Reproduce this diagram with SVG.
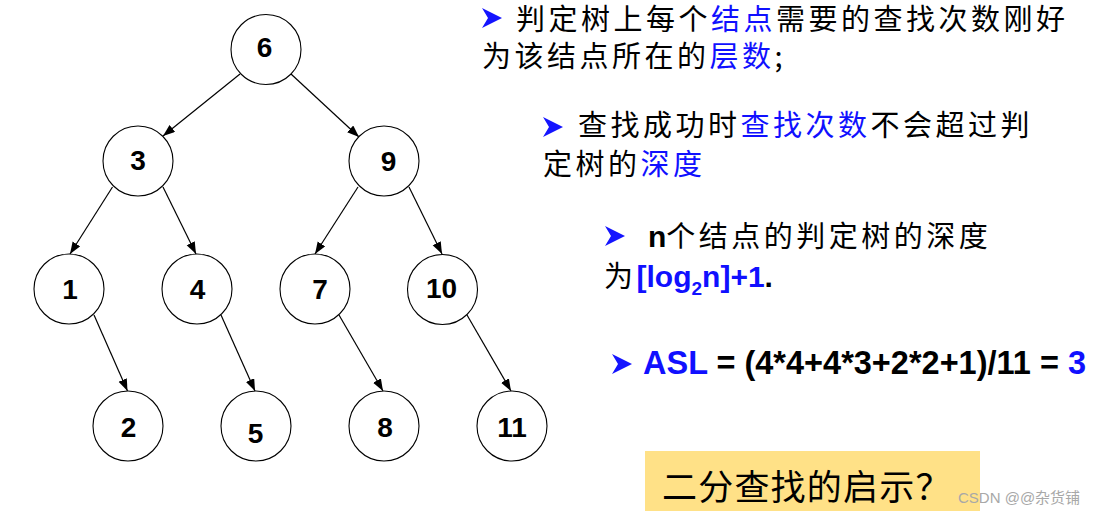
<svg xmlns="http://www.w3.org/2000/svg" width="1096" height="516" viewBox="0 0 1096 516">
<style>
.node circle{fill:#fff;stroke:#000;stroke-width:1.1}
.lbl{font-family:"Liberation Sans",Arial,sans-serif;font-weight:bold;font-size:28px;fill:#000;text-anchor:middle}
.edge{stroke:#000;stroke-width:1.2;fill:none;marker-end:url(#ah)}
.cn{font-family:"Noto Sans CJK SC",sans-serif;font-size:29px;fill:#000;letter-spacing:3.5px}
.blue{fill:#1010ff}
.lat{font-family:"Liberation Sans",Arial,sans-serif;font-weight:bold;letter-spacing:0}
</style>
<defs>
<marker id="ah" markerUnits="userSpaceOnUse" markerWidth="13" markerHeight="10" refX="12" refY="4.5" orient="auto">
<path d="M0,0 L12,4.5 L0,9 Z" fill="#000"/>
</marker>
<path id="bullet" d="M0,0 L20,10 L0,20 L6,10 Z" fill="#1414ff"/>
</defs>

<g id="connectors">
<line class="edge" x1="240" y1="74" x2="163" y2="136"/>
<line class="edge" x1="291" y1="74" x2="359" y2="137"/>
<line class="edge" x1="112.5" y1="187" x2="70" y2="254"/>
<line class="edge" x1="163" y1="187" x2="196" y2="254"/>
<line class="edge" x1="358" y1="187" x2="315" y2="254"/>
<line class="edge" x1="409" y1="187" x2="442" y2="254"/>
<line class="edge" x1="94" y1="315" x2="127.5" y2="391"/>
<line class="edge" x1="221" y1="315" x2="255" y2="391"/>
<line class="edge" x1="339" y1="315" x2="383" y2="391"/>
<line class="edge" x1="467" y1="315" x2="511" y2="391"/>
</g>

<g id="n6" class="node"><circle cx="266" cy="49.5" r="35"/><text class="lbl" x="264.5" y="57">6</text></g>
<g id="n3" class="node"><circle cx="138" cy="161" r="35"/><text class="lbl" x="138" y="170">3</text></g>
<g id="n9" class="node"><circle cx="384" cy="161" r="35"/><text class="lbl" x="388.5" y="171">9</text></g>
<g id="n1" class="node"><circle cx="69" cy="289" r="35"/><text class="lbl" x="70" y="299">1</text></g>
<g id="n4" class="node"><circle cx="197" cy="289" r="35"/><text class="lbl" x="197.5" y="299">4</text></g>
<g id="n7" class="node"><circle cx="315" cy="289" r="35"/><text class="lbl" x="320" y="299">7</text></g>
<g id="n10" class="node"><circle cx="442.5" cy="289.5" r="35"/><text class="lbl" x="441.5" y="298">10</text></g>
<g id="n2" class="node"><circle cx="128" cy="426" r="35"/><text class="lbl" x="128.5" y="437">2</text></g>
<g id="n5" class="node"><circle cx="256" cy="426" r="35"/><text class="lbl" x="255.5" y="443">5</text></g>
<g id="n8" class="node"><circle cx="384" cy="426" r="35"/><text class="lbl" x="385" y="437">8</text></g>
<g id="n11" class="node"><circle cx="512" cy="426" r="35"/><text class="lbl" x="512" y="437">11</text></g>

<g id="notes">
<use href="#bullet" x="482" y="8"/>
<text class="cn" x="516" y="30">判定树上每个<tspan class="blue">结点</tspan>需要的查找次数刚好</text>
<text class="cn" x="482" y="67">为该结点所在的<tspan class="blue">层数</tspan>;</text>

<use href="#bullet" x="543" y="117"/>
<text class="cn" x="578" y="136">查找成功时<tspan class="blue">查找次数</tspan>不会超过判</text>
<text class="cn" x="543" y="175">定树的<tspan class="blue">深度</tspan></text>

<use href="#bullet" x="605" y="226"/>
<text class="cn" x="648" y="247"><tspan class="lat" font-size="30">n</tspan>个结点的判定树的深度</text>
<text class="cn" x="604" y="287">为<tspan class="lat blue" font-size="30">[log</tspan><tspan class="lat blue" font-size="19" dy="8">2</tspan><tspan class="lat blue" font-size="30" dy="-8">n]+1</tspan><tspan class="lat" font-size="30">.</tspan></text>

<use href="#bullet" x="612" y="354"/>
<text x="643" y="374" font-family="Liberation Sans, Arial, sans-serif" font-weight="bold" font-size="32.5" fill="#000"><tspan class="blue">ASL</tspan> = (4*4+4*3+2*2+1)/11 = <tspan class="blue">3</tspan></text>
</g>

<g id="hint">
<rect x="645" y="451" width="335" height="60" fill="#ffe187"/>
<text x="662" y="500" font-family="Noto Sans CJK SC, sans-serif" font-size="35" letter-spacing="1.2" fill="#000">二分查找的启示？</text>
</g>
<text x="958" y="503" font-family="Liberation Sans, Noto Sans CJK SC, sans-serif" font-size="15" fill="#a8a8a8">CSDN @@杂货铺</text>
</svg>
